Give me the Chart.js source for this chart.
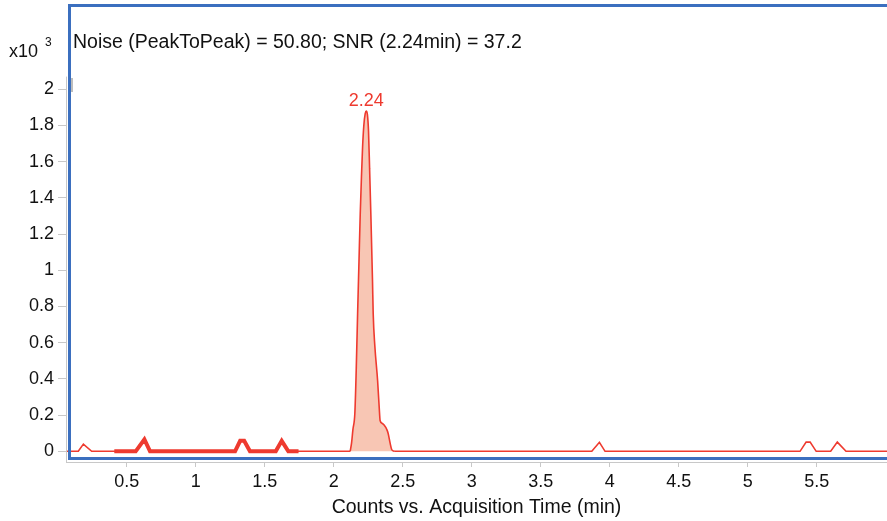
<!DOCTYPE html>
<html lang="en">
<head>
    <meta charset="UTF-8">
    <title>Counts vs. Acquisition Time</title>
    <script src="https://cdn.jsdelivr.net/npm/chart.js"></script>
    <style>
        body{margin:0;background:#fff}
        #wrap{width:887px;height:521px}
    </style>
</head>
<body>
<div id="wrap"><canvas id="chart" width="887" height="521"></canvas></div>
<script>
// trace: acquisition time (min) and counts (x10^3)
const times=[0.06,0.149,0.186,0.246,0.41,0.565,0.628,0.669,1.285,1.322,1.351,1.393,1.58,1.623,1.671,1.745,
    2.119,2.129,2.139,2.153,2.163,2.173,2.183,2.192,2.201,2.209,2.218,2.228,2.236,2.244,2.252,2.26,2.269,2.281,2.286,
    2.298,2.318,2.332,2.336,2.35,2.365,2.385,2.394,2.409,2.42,2.438,
    3.87,3.925,3.966,5.379,5.423,5.452,5.496,5.601,5.649,5.712,6.01];
const counts=[0,0,0.04,0,0,0,0.066,0,0,0.058,0.058,0,0,0.058,0,0,
    0,0.045,0.12,0.21,0.45,0.76,1.05,1.31,1.52,1.68,1.8,1.865,1.88,1.86,1.77,1.56,1.31,0.94,0.76,
    0.58,0.39,0.21,0.17,0.155,0.145,0.12,0.1,0.044,0.01,0,
    0,0.05,0,0,0.051,0.051,0,0,0.051,0,0];
const noiseWindow=[0.41,1.745];
const peakWindow=[2.119,2.438];
const peakRT='2.24';
const xTicks=[0.5,1,1.5,2,2.5,3,3.5,4,4.5,5,5.5];
const yTicks=[0,0.2,0.4,0.6,0.8,1,1.2,1.4,1.6,1.8,2];
const noiseText='Noise (PeakToPeak) = 50.80; SNR (2.24min) = 37.2';
const xTitle='Counts vs. Acquisition Time (min)';

const RED='#ee3a2f', FILL='#f8c6b4', BLUE='#3b6fbf', GRAY='#c8c8c8';
const FONT='"Liberation Sans", Arial, sans-serif';

const pts=times.map((t,i)=>({x:t,y:counts[i]}));
const inWin=(w)=>pts.filter(p=>p.x>=w[0]&&p.x<=w[1]);
// peak segments are drawn by the smoothed peak dataset instead
const inPeak=(ctx)=>ctx.p0.parsed.x>=peakWindow[0]&&ctx.p1.parsed.x<=peakWindow[1];

const decor={
    id:'decor',
    afterDraw(chart){
        const c=chart.ctx, a=chart.chartArea, ys=chart.scales.y, xs=chart.scales.x;
        c.save();
        // y axis line
        c.strokeStyle=GRAY;c.lineWidth=1;
        c.beginPath();c.moveTo(a.left+0.5,ys.getPixelForValue(2.07));c.lineTo(a.left+0.5,a.bottom);c.stroke();
        // plot frame
        c.strokeStyle=BLUE;c.lineWidth=3;
        c.strokeRect(a.left+3.5,a.top+1.5,a.right-a.left+10,a.bottom-a.top-5);
        c.fillStyle='#bdbdbd';c.fillRect(a.left+5,78,2,14);
        // texts
        c.fillStyle='#111';c.font='19.5px '+FONT;c.textBaseline='alphabetic';c.textAlign='left';
        c.fillText(noiseText,73,48);
        c.font='18px '+FONT;c.fillText('x10',9,57);
        c.font='12px '+FONT;c.fillText('3',45,46);
        // retention time label at apex
        let top=pts[0];pts.forEach(p=>{if(p.y>top.y) top=p;});
        c.fillStyle=RED;c.font='18px '+FONT;c.textAlign='center';
        c.fillText(peakRT,xs.getPixelForValue(top.x),ys.getPixelForValue(top.y)-5);
        c.restore();
    }
};

new Chart(document.getElementById('chart').getContext('2d'),{
    type:'line',
    data:{datasets:[
        {data:inWin(noiseWindow),borderColor:RED,borderWidth:4,pointRadius:0,tension:0,fill:false,order:1},
        {data:pts,borderColor:RED,borderWidth:1.6,pointRadius:0,tension:0,fill:false,order:2,
            segment:{borderColor:ctx=>inPeak(ctx)?'rgba(0,0,0,0)':undefined}},
        {data:inWin(peakWindow),borderColor:RED,borderWidth:1.6,backgroundColor:FILL,pointRadius:0,
            cubicInterpolationMode:'monotone',fill:'origin',order:3}
    ]},
    options:{
        responsive:false,animation:false,
        layout:{padding:{left:0,top:4,right:0,bottom:0}},
        plugins:{legend:{display:false},tooltip:{enabled:false}},
        scales:{
            x:{type:'linear',min:0.06,max:6.009,
                afterFit:s=>{s.height=59;s.paddingLeft=0;s.paddingRight=0},
                afterBuildTicks:s=>{s.ticks=xTicks.map(v=>({value:v}))},
                grid:{drawOnChartArea:false,drawTicks:true,tickLength:5,color:GRAY},
                border:{display:true,color:GRAY},
                ticks:{color:'#111',font:{family:FONT,size:18},padding:4,maxRotation:0,autoSkip:false,callback:v=>String(+v.toFixed(2))},
                title:{display:true,text:xTitle,color:'#111',font:{family:FONT,size:19.5},padding:{top:0,bottom:2}}
            },
            y:{type:'linear',min:-0.059,max:2.471,
                afterFit:s=>{s.width=66;s.paddingTop=0;s.paddingBottom=0},
                afterBuildTicks:s=>{s.ticks=yTicks.map(v=>({value:v}))},
                grid:{drawOnChartArea:false,drawTicks:true,tickLength:8,color:GRAY},
                border:{display:false},
                ticks:{color:'#111',font:{family:FONT,size:18},padding:4,callback:v=>String(+v.toFixed(2))}
            }
        }
    },
    plugins:[decor]
});
</script>
</body>
</html>
